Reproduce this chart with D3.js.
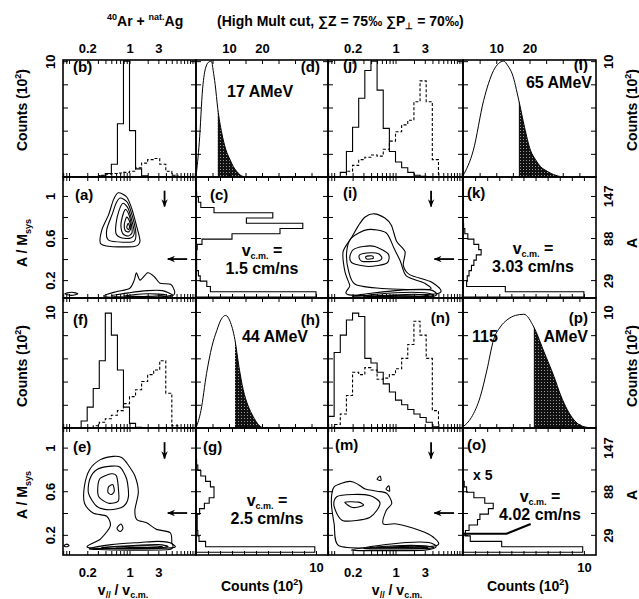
<!DOCTYPE html>
<html>
<head>
<meta charset="utf-8">
<title>Ar + Ag</title>
<script src="https://cdn.jsdelivr.net/npm/d3@7"></script>
<style>
body { margin: 0; background: #fff; }
svg text { font-family: "Liberation Sans", Arial, sans-serif; font-weight: bold; fill: #000; }
.frame { fill: none; stroke: #000; stroke-width: 1.6; }
.ticks line { stroke: #000; stroke-width: 1; }
.hist { fill: none; stroke: #000; stroke-width: 1.1; }
.dash { stroke-dasharray: 3,2; }
.curve { fill: none; stroke: #000; stroke-width: 1; }
.ring { fill: none; stroke: #000; stroke-width: 1.1; }
.lab text { font-size: 13px; }
</style>
</head>
<body>
<script>
// ---- data ----
// velocity histograms: 22 bins, 0.1 decade wide, from v = 10^-1.1 up to 10^1.1
const b_solid = [0, 0, 0, 0, 0, 0, 0.1, 0.3, 1.1, 4.6, 10, 4.0, 0.7, 0.1, 0, 0, 0, 0, 0, 0, 0, 0];
const b_dash  = [0, 0, 0, 0, 0, 0, 0.15, 0.25, 0.3, 0.35, 0.4, 0.5, 0.8, 1.2, 1.5, 1.6, 1.1, 0.5, 0.15, 0, 0, 0];
const f_solid = [0, 0, 0, 0.6, 1.8, 3.4, 5.8, 9.9, 8.0, 5.0, 1.8, 0.4, 0.05, 0, 0, 0, 0, 0, 0, 0, 0, 0];
const f_dash  = [0, 0, 0, 0, 0, 0.2, 0.5, 0.8, 1.1, 1.5, 2.1, 2.7, 3.3, 4.0, 4.6, 5.0, 5.8, 3.0, 0.2, 0, 0, 0];
const j_solid = [0, 0, 0.4, 2.2, 4.3, 6.8, 9.2, 10, 7.5, 4.2, 2.2, 1.3, 0.8, 0.4, 0.15, 0.05, 0, 0, 0, 0, 0, 0];
const j_dash  = [0, 0, 0, 0.5, 1.0, 1.5, 1.7, 1.9, 1.8, 2.4, 3.1, 3.9, 4.5, 4.9, 6.5, 8.3, 6.5, 1.5, 0, 0, 0, 0];
const n_solid = [1.0, 6.5, 8.0, 9.3, 9.9, 9.6, 6.0, 5.6, 4.8, 3.8, 3.1, 2.4, 2.0, 1.6, 1.2, 0.9, 0.5, 0.1, 0, 0, 0, 0];
const n_dash  = [0, 0.3, 1.2, 2.8, 4.8, 4.6, 5.2, 5.0, 4.2, 4.3, 4.6, 5.1, 6.0, 7.2, 9.2, 8.0, 6.0, 1.5, 0, 0, 0, 0];

// mass histograms: 22 bins of A/Msys, 0.05 wide, starting at 0.04
const c_hist = [10, 1.2, 0.9, 0.35, 0.2, 0.05, 0.05, 0.05, 0.05, 0.1, 0.5, 3.0, 7.0, 8.9, 4.2, 6.4, 1.5, 0.4, 0.2, 0.05, 0, 0];
const g_hist = [9.9, 0.8, 0.25, 0.15, 0.1, 0.1, 0.1, 0.3, 0.7, 1.1, 1.5, 1.5, 1.2, 0.8, 0.4, 0.15, 0.05, 0, 0, 0, 0, 0];
const k_hist = [10, 3.5, 0.3, 0.35, 0.5, 0.7, 0.9, 1.1, 1.5, 1.3, 0.9, 0.4, 0.15, 0.05, 0, 0, 0, 0, 0, 0, 0, 0];
const o_hist = [9.9, 3.2, 0.6, 0.2, 0.5, 1.2, 1.4, 2.1, 2.5, 1.8, 0.9, 0.3, 0.1, 0, 0, 0, 0, 0, 0, 0, 0, 0];
const o_x5   = [[0, 0.17], [0, 0.21], [3.6, 0.21], [5.6, 0.3]];

// multiplicity-like distributions [x, counts] and the start of the shaded cut
const d_curve = [[0,0],[1,3],[2,7.6],[3,9.5],[4,9.95],[4.7,10],[5.2,9.2],[5.8,8],[6.6,5.9],[7.8,3.8],[9,2.4],[10.3,1.5],[11.3,0.9],[12.3,0.5],[13.5,0.15],[15,0]];
const h_curve = [[0,0],[1.5,1.5],[3.2,4.7],[4.8,7],[6.3,8.4],[7.7,9.4],[9,9.7],[10.3,9.2],[11.8,7.6],[13,5.3],[14.3,3.3],[15.8,1.9],[17.3,1],[18.6,0.4],[20,0.05],[22,0]];
const l_curve = [[0,0.1],[3.1,2.3],[6.2,6.6],[7.7,8.1],[9.2,9.2],[10.7,9.8],[12.2,10],[13.5,9.6],[14.8,8.9],[16.8,6.6],[18.5,4.3],[20.3,2.3],[21.8,1.5],[23.3,0.9],[25.3,0.5],[27.3,0.2],[30,0]];
const p_curve = [[0,0.1],[2.5,0.9],[5.2,2.7],[7.2,5],[9.2,7.6],[11.2,8.7],[13.2,9.3],[15.8,9.7],[18.3,9.8],[21.3,8.7],[24.3,6.6],[27.4,4.4],[29.4,2.8],[31.4,1.55],[34,0.5],[36.5,0.1],[39,0]];
const cuts = [6.6, 11.8, 16.8, 21.3];
const energies = ["17 AMeV", "44 AMeV", "65 AMeV", "115 AMeV"];
const vcm = ["1.5", "2.5", "3.03", "4.02"];

// contour rings [v/vcm, A/Msys]
const a_rings = [
  [[0.65,1.03],[0.9,0.99],[1.09,0.88],[1.3,0.72],[1.49,0.57],[1.2,0.52],[0.48,0.52],[0.33,0.55],[0.35,0.68],[0.45,0.82],[0.54,0.96]],
  [[0.7,0.98],[0.92,0.94],[1.1,0.82],[1.27,0.66],[1.2,0.57],[0.8,0.56],[0.45,0.58],[0.42,0.68],[0.52,0.83],[0.6,0.93]],
  [[0.78,0.93],[0.95,0.88],[1.1,0.76],[1.2,0.65],[1.05,0.6],[0.75,0.6],[0.6,0.64],[0.6,0.74],[0.67,0.86]],
  [[0.85,0.87],[0.98,0.82],[1.08,0.72],[1.1,0.65],[0.95,0.62],[0.78,0.64],[0.72,0.72],[0.76,0.8]],
  [[0.9,0.8],[1.0,0.76],[1.05,0.7],[0.98,0.66],[0.85,0.67],[0.82,0.73]],
  [[0.95,0.74],[1.0,0.71],[0.97,0.68],[0.9,0.7]],
  [[0.37,0.05],[0.6,0.09],[1.0,0.12],[1.2,0.2],[1.3,0.27],[1.5,0.2],[2.0,0.27],[2.6,0.23],[3.2,0.17],[4.8,0.16],[5.6,0.08],[4.5,0.04],[1.5,0.035],[0.6,0.035]],
  [[0.5,0.05],[1,0.08],[2,0.1],[3.5,0.1],[5,0.06],[3,0.04],[1,0.04]],
  [[0.8,0.05],[2,0.07],[4,0.06],[2,0.045]],
  [[0.085,0.07],[0.11,0.085],[0.14,0.07],[0.11,0.055]]
];
const e_rings = [
  [[0.54,0.92],[0.74,0.91],[0.9,0.86],[1.23,0.74],[1.4,0.59],[1.23,0.43],[1.32,0.34],[1.92,0.31],[2.8,0.25],[4.7,0.22],[5.0,0.125],[4.7,0.08],[0.22,0.08],[0.33,0.16],[0.48,0.28],[0.42,0.37],[0.25,0.40],[0.18,0.49],[0.18,0.65],[0.22,0.80],[0.33,0.89]],
  [[0.29,0.80],[0.5,0.83],[0.7,0.82],[0.9,0.71],[0.96,0.55],[0.79,0.46],[0.48,0.43],[0.29,0.46],[0.21,0.58],[0.22,0.71]],
  [[0.33,0.72],[0.5,0.76],[0.61,0.74],[0.66,0.6],[0.65,0.51],[0.45,0.49],[0.31,0.55],[0.3,0.65]],
  [[0.45,0.64],[0.53,0.66],[0.56,0.6],[0.5,0.57],[0.44,0.59]],
  [[0.62,0.26],[0.72,0.3],[0.78,0.26],[0.7,0.23]],
  [[0.22,0.075],[0.5,0.11],[1.5,0.13],[3,0.14],[5,0.12],[4.5,0.065],[1,0.06],[0.3,0.065]],
  [[0.35,0.085],[1,0.1],[3,0.11],[4.3,0.09],[2,0.075],[0.6,0.078]],
  [[0.6,0.09],[2,0.1],[3.5,0.09],[1.5,0.083]],
  [[0.082,0.1],[0.092,0.115],[0.1,0.1],[0.09,0.09]]
];
const i_rings = [
  [[0.32,0.80],[0.45,0.83],[0.67,0.79],[0.86,0.72],[1.04,0.57],[1.43,0.47],[1.34,0.34],[1.72,0.25],[3.9,0.18],[4.7,0.07],[0.19,0.057],[0.18,0.15],[0.15,0.28],[0.14,0.47],[0.19,0.6],[0.25,0.72]],
  [[0.19,0.6],[0.35,0.68],[0.7,0.65],[0.95,0.5],[1.2,0.38],[1.5,0.24],[3.0,0.17],[3.5,0.11],[0.6,0.12],[0.22,0.16],[0.17,0.3],[0.16,0.47]],
  [[0.205,0.49],[0.3,0.52],[0.46,0.52],[0.76,0.45],[0.72,0.36],[0.36,0.33],[0.2,0.36],[0.18,0.42]],
  [[0.26,0.44],[0.4,0.46],[0.53,0.45],[0.6,0.41],[0.5,0.38],[0.28,0.38]],
  [[0.33,0.425],[0.42,0.43],[0.43,0.405],[0.34,0.4]],
  [[0.2,0.05],[1,0.1],[3.5,0.11],[4.7,0.06],[3,0.035],[0.5,0.035]],
  [[0.3,0.05],[1,0.08],[3,0.08],[4,0.05],[1,0.04]],
  [[0.5,0.05],[2,0.065],[3.5,0.05],[1.5,0.042]]
];
const m_rings = [
  [[0.1,0.64],[0.18,0.69],[0.25,0.66],[0.32,0.62],[0.5,0.6],[0.72,0.58],[0.87,0.49],[0.7,0.42],[0.63,0.3],[1.04,0.3],[2.5,0.24],[4.1,0.18],[4.5,0.1],[0.5,0.08],[0.12,0.1],[0.1,0.3],[0.09,0.5]],
  [[0.11,0.55],[0.2,0.57],[0.38,0.56],[0.56,0.49],[0.38,0.36],[0.14,0.33],[0.1,0.46]],
  [[0.15,0.5],[0.25,0.5],[0.3,0.47],[0.2,0.45]],
  [[0.5,0.71],[0.56,0.74],[0.58,0.7]],
  [[0.7,0.62],[0.78,0.65],[0.8,0.6]],
  [[0.19,0.06],[0.5,0.1],[1.5,0.13],[3.5,0.13],[4.6,0.09],[3,0.06],[0.5,0.055]],
  [[0.3,0.075],[1,0.1],[3,0.1],[4,0.08],[1,0.07]],
  [[0.5,0.085],[2,0.095],[3.3,0.085],[1,0.08]]
];

// tick labels
const vLabels = [0.2, 1, 3];
const eLabels = [10, 20];
const aLabels = [0.2, 0.6, 1];
const massLabels = [29, 88, 147];
const vTickVals = [0.08, 0.09, 0.1, 0.2, 0.3, 0.4, 0.5, 0.6, 0.7, 0.8, 0.9, 1, 2, 3, 4, 5, 6, 7, 8, 9, 10, 11, 12];

// ---- layout ----
const W = 639, H = 599;
const colX = [63, 196, 328, 463, 596];
const rowY = [60, 177, 298, 428, 555];

const svg = d3.select("body").append("svg").attr("width", W).attr("height", H);
const defs = svg.append("defs");

var pat = defs.append("pattern").attr("id", "stip")
    .attr("width", 3).attr("height", 3).attr("patternUnits", "userSpaceOnUse");
pat.append("rect").attr("width", 3).attr("height", 3).attr("fill", "#111");
pat.append("rect").attr("x", 1).attr("y", 1).attr("width", 1).attr("height", 1).attr("fill", "#999");

defs.append("marker").attr("id", "arr")
    .attr("viewBox", "0 0 10 10").attr("refX", 9).attr("refY", 5)
    .attr("markerUnits", "userSpaceOnUse")
    .attr("markerWidth", 8).attr("markerHeight", 8).attr("orient", "auto")
    .append("path").attr("d", "M0,1 L10,5 L0,9 L3,5 z").attr("fill", "#000");

// scales
const vX = c => d3.scaleLog().domain([0.0794, 12.59]).range([colX[c], colX[c + 1]]);
const eX = c => d3.scaleLinear().domain([0, 40]).range([colX[c], colX[c + 1]]);
const nX = c => d3.scaleLinear().domain([0, 11]).range([colX[c], colX[c + 1]]);
const cntTop = { 0: 10.1, 2: 11.2 };
const aBot = { 1: 0.03, 3: 0.015 };
const cY = r => d3.scaleLinear().domain([0, cntTop[r]]).range([rowY[r + 1], rowY[r]]);
const aY = r => d3.scaleLinear().domain([aBot[r], 1.18]).range([rowY[r + 1], rowY[r]]);

const vEdges = d3.range(23).map(k => Math.pow(10, -1.1 + 0.1 * k));
const aEdges = d3.range(23).map(k => 0.04 + 0.05 * k);

function stepPoints(edges, vals) {
    var pts = [[edges[0], 0]];
    vals.forEach(function(v, k) {
        pts.push([edges[k], v]);
        pts.push([edges[k + 1], v]);
    });
    pts.push([edges[vals.length], 0]);
    return pts;
}

function panel(c, r) {
    var id = "clip" + c + r;
    defs.append("clipPath").attr("id", id).append("rect")
        .attr("x", colX[c]).attr("y", rowY[r])
        .attr("width", colX[c + 1] - colX[c]).attr("height", rowY[r + 1] - rowY[r]);
    return svg.append("g").attr("clip-path", "url(#" + id + ")");
}

function drawVHist(c, r, solid, dash) {
    var g = panel(c, r), x = vX(c), y = cY(r);
    var line = d3.line().x(d => x(d[0])).y(d => y(d[1]));
    g.append("path").attr("class", "hist dash").attr("d", line(stepPoints(vEdges, dash)));
    g.append("path").attr("class", "hist").attr("d", line(stepPoints(vEdges, solid)));
}

function drawCurve(c, r, pts, cut) {
    var g = panel(c, r), x = eX(c), y = cY(r);
    var cid = "cut" + c + r;
    defs.append("clipPath").attr("id", cid).append("rect")
        .attr("x", x(cut)).attr("y", rowY[r])
        .attr("width", colX[c + 1] - x(cut)).attr("height", rowY[r + 1] - rowY[r]);
    var area = d3.area().curve(d3.curveMonotoneX)
        .x(d => x(d[0])).y0(y(0)).y1(d => y(d[1]));
    g.append("path").attr("d", area(pts)).attr("fill", "url(#stip)")
        .attr("clip-path", "url(#" + cid + ")");
    g.append("path").attr("class", "curve")
        .attr("d", d3.line().curve(d3.curveMonotoneX).x(d => x(d[0])).y(d => y(d[1]))(pts));
}

function drawAHist(c, r, vals) {
    var g = panel(c, r), x = nX(c), y = aY(r);
    g.append("path").attr("class", "hist")
        .attr("d", d3.line().x(d => x(d[1])).y(d => y(d[0]))(stepPoints(aEdges, vals)));
    return g;
}

function drawRings(c, r, rings) {
    var g = panel(c, r), x = vX(c), y = aY(r);
    var line = d3.line().curve(d3.curveCardinalClosed.tension(0.2))
        .x(d => x(d[0])).y(d => y(d[1]));
    g.selectAll("path.ring").data(rings).join("path").attr("class", "ring").attr("d", line);
    // arrows
    g.append("line").attr("x1", x(3.8)).attr("x2", x(3.8)).attr("y1", y(1.05)).attr("y2", y(0.9))
        .attr("stroke", "#000").attr("stroke-width", 1.8).attr("marker-end", "url(#arr)");
    g.append("line").attr("x1", x(9)).attr("x2", x(4.3)).attr("y1", y(0.4)).attr("y2", y(0.4))
        .attr("stroke", "#000").attr("stroke-width", 1.8).attr("marker-end", "url(#arr)");
}

// ---- panels ----
drawVHist(0, 0, b_solid, b_dash);
drawVHist(0, 2, f_solid, f_dash);
drawVHist(2, 0, j_solid, j_dash);
drawVHist(2, 2, n_solid, n_dash);

drawCurve(1, 0, d_curve, cuts[0]);
drawCurve(1, 2, h_curve, cuts[1]);
drawCurve(3, 0, l_curve, cuts[2]);
drawCurve(3, 2, p_curve, cuts[3]);

drawAHist(1, 1, c_hist);
drawAHist(1, 3, g_hist);
drawAHist(3, 1, k_hist);
var og = drawAHist(3, 3, o_hist);
og.append("path").attr("fill", "none").attr("stroke", "#000").attr("stroke-width", 2.2)
    .attr("d", d3.line().x(d => nX(3)(d[0])).y(d => aY(3)(d[1]))(o_x5));

drawRings(0, 1, a_rings);
drawRings(0, 3, e_rings);
drawRings(2, 1, i_rings);
drawRings(2, 3, m_rings);

// ---- ticks and frames ----
function ticks(c, r, xs, xVals, ys, yVals) {
    var g = svg.append("g").attr("class", "ticks");
    function mk(axis, tf) {
        g.append("g").attr("transform", tf).call(axis).call(s => s.select(".domain").remove());
    }
    mk(d3.axisTop(xs).tickValues(xVals).tickSize(-4).tickFormat(""), "translate(0," + rowY[r] + ")");
    mk(d3.axisBottom(xs).tickValues(xVals).tickSize(-4).tickFormat(""), "translate(0," + rowY[r + 1] + ")");
    mk(d3.axisLeft(ys).tickValues(yVals).tickSize(-5).tickFormat(""), "translate(" + colX[c] + ",0)");
    mk(d3.axisRight(ys).tickValues(yVals).tickSize(-5).tickFormat(""), "translate(" + colX[c + 1] + ",0)");
}
const cntTicks = [2, 4, 6, 8, 10];
const aTicks = [0.2, 0.4, 0.6, 0.8, 1.0];
[0, 2].forEach(function(c) {
    ticks(c, 0, vX(c), vTickVals, cY(0), cntTicks);
    ticks(c, 2, vX(c), vTickVals, cY(2), cntTicks);
    ticks(c, 1, vX(c), vTickVals, aY(1), aTicks);
    ticks(c, 3, vX(c), vTickVals, aY(3), aTicks);
});
[1, 3].forEach(function(c) {
    ticks(c, 0, eX(c), d3.range(5, 40, 5), cY(0), cntTicks);
    ticks(c, 2, eX(c), d3.range(5, 40, 5), cY(2), cntTicks);
    ticks(c, 1, nX(c), d3.range(1, 11), aY(1), aTicks);
    ticks(c, 3, nX(c), d3.range(1, 11), aY(3), aTicks);
});

for (var c = 0; c < 4; c++) {
    for (var r = 0; r < 4; r++) {
        svg.append("rect").attr("class", "frame")
            .attr("x", colX[c]).attr("y", rowY[r])
            .attr("width", colX[c + 1] - colX[c]).attr("height", rowY[r + 1] - rowY[r]);
    }
}

// ---- tick labels ----
function labelAxis(axis, tf) {
    var g = svg.append("g").attr("class", "lab").attr("transform", tf).call(axis);
    g.select(".domain").remove();
    g.selectAll("line").remove();
    return g;
}
[0, 2].forEach(function(c) {
    labelAxis(d3.axisTop(vX(c)).tickValues(vLabels).tickFormat(d => d).tickSize(0).tickPadding(7),
        "translate(0," + rowY[0] + ")");
    labelAxis(d3.axisBottom(vX(c)).tickValues(vLabels).tickFormat(d => d).tickSize(0).tickPadding(13),
        "translate(0," + rowY[4] + ")");
});
[1, 3].forEach(function(c) {
    labelAxis(d3.axisTop(eX(c)).tickValues(eLabels).tickFormat(d => d).tickSize(0).tickPadding(7),
        "translate(0," + rowY[0] + ")");
    labelAxis(d3.axisBottom(nX(c)).tickValues([10]).tickFormat(d => d).tickSize(0).tickPadding(8),
        "translate(0," + rowY[4] + ")");
});

function rotLabels(axis, x, side) {
    var g = labelAxis(axis, "translate(" + x + ",0)");
    g.selectAll("text").attr("transform", "rotate(-90)")
        .attr("x", 0).attr("dy", 0).attr("y", side < 0 ? -8 : 17)
        .attr("text-anchor", "middle");
}
[0, 2].forEach(function(r) {
    rotLabels(d3.axisLeft(cY(r)).tickValues([10]).tickFormat(d => d).tickSize(0), colX[0], -1);
    rotLabels(d3.axisRight(cY(r)).tickValues([10]).tickFormat(d => d).tickSize(0), colX[4], 1);
});
[1, 3].forEach(function(r) {
    rotLabels(d3.axisLeft(aY(r)).tickValues(aLabels).tickFormat(d => d).tickSize(0), colX[0], -1);
    rotLabels(d3.axisRight(aY(r)).tickValues(massLabels.map(m => m / 147))
        .tickFormat((d, i) => massLabels[i]).tickSize(0), colX[4], 1);
});

// ---- texts ----
function text(x, y, parts, size, anchor, rotate) {
    var t = svg.append("text").attr("text-anchor", anchor || "start").style("font-size", size + "px");
    if (rotate) t.attr("transform", "translate(" + x + "," + y + ") rotate(-90)");
    else t.attr("x", x).attr("y", y);
    parts.forEach(function(p) {
        if (typeof p === "string") p = { t: p };
        var s = t.append("tspan").text(p.t);
        if (p.dy) s.attr("dy", p.dy);
        if (p.s) s.style("font-size", p.s + "px");
        if (p.x !== undefined) s.attr("x", p.x);
    });
    return t;
}

// title
text(107, 26, [{ t: "40", s: 9, dy: -6 }, { t: "Ar + ", dy: 6 }, { t: "nat.", s: 9, dy: -6 }, { t: "Ag", dy: 6 },
    { t: "(High Mult cut, \u2211Z = 75\u2030 \u2211P", x: 217 }, { t: "\u22A5", s: 9, dy: 3 }, { t: " = 70\u2030)", dy: -3 }], 14);

// panel letters
[["(b)", 73, 72, "start"], ["(a)", 75, 200, "start"], ["(d)", 320, 72, "end"], ["(c)", 210, 200, "start"],
 ["(j)", 343, 70, "start"], ["(i)", 343, 198, "start"], ["(l)", 588, 70, "end"], ["(k)", 467, 198, "start"],
 ["(f)", 73, 325, "start"], ["(e)", 73, 452, "start"], ["(h)", 320, 325, "end"], ["(g)", 203, 452, "start"],
 ["(n)", 450, 323, "end"], ["(m)", 335, 450, "start"], ["(p)", 588, 323, "end"], ["(o)", 467, 450, "start"]]
    .forEach(d => text(d[1], d[2], [d[0]], 15, d[3]));

// beam energies
text(227, 97, [energies[0]], 16);
text(308, 342, [energies[1]], 16, "end");
text(592, 88, [energies[2]], 16, "end");
text(472, 342, [energies[3].split(" ")[0]], 16);
text(588, 342, [energies[3].split(" ")[1]], 16, "end");

// centre-of-mass velocities
[[262, 256], [267, 506], [533, 254], [540, 502]].forEach(function(p, i) {
    text(p[0], p[1], ["v", { t: "c.m.", s: 9, dy: 3 }, { t: " =", dy: -3 }], 16, "middle");
    text(p[0], p[1] + 18, [vcm[i] + " cm/ns"], 16, "middle");
});
text(473, 480, ["x 5"], 14);

// axis titles
[123, 397].forEach(x => text(x, 595, ["v", { t: "//", s: 9, dy: 3 }, { t: " / v", dy: -3 }, { t: "c.m.", s: 9, dy: 3 }], 14, "middle"));
[262, 528].forEach(x => text(x, 591, ["Counts (10", { t: "2", s: 9, dy: -6 }, { t: ")", dy: 6 }], 14, "middle"));
[110, 366].forEach(y => {
    text(27, y, ["Counts (10", { t: "2", s: 9, dy: -6 }, { t: ")", dy: 6 }], 14, "middle", true);
    text(637, y, ["Counts (10", { t: "2", s: 9, dy: -6 }, { t: ")", dy: 6 }], 14, "middle", true);
});
[243, 495].forEach(y => {
    text(27, y, ["A / M", { t: "sys", s: 9, dy: 4 }], 14, "middle", true);
    text(637, y, ["A"], 14, "middle", true);
});
</script>
</body>
</html>
